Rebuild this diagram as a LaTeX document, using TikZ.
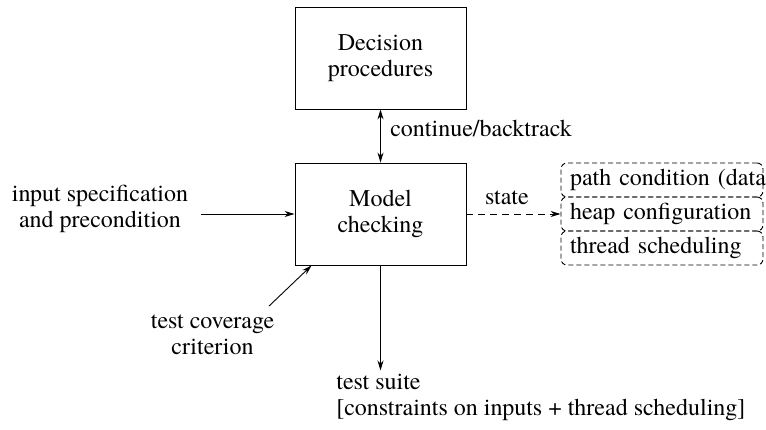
\documentclass[tikz,border=0pt]{standalone}
\usepackage{fontspec}
\setmainfont{texgyretermes}[Extension=.otf,UprightFont=*-regular,BoldFont=*-bold,
	ItalicFont=*-italic,BoldItalicFont=*-bolditalic]
\usetikzlibrary{arrows.meta,positioning}

\begin{document}
\begin{tikzpicture}[x=1pt,y=1pt,line width=0.9pt,>={Stealth[length=10pt,width=6pt]},
	node distance=100pt,on grid,font=\fontsize{24}{26}\selectfont,
	box/.style={draw,minimum width=171pt,minimum height=102pt,align=center},
	slot/.style={draw,dash pattern=on 5pt off 3pt,rounded corners=6pt,minimum height=34pt,
		text width=184pt,inner xsep=9pt,align=left},
	txt/.style={align=center}]
	\useasboundingbox (-380.5,214) rectangle (385.5,-215);
	\node[box] (mc) {Model\\checking};
	\node[box] (dp) [above=156pt of mc] {Decision\\procedures};
	\node[txt] (input) [above left=5pt and 280.5pt of mc] {input specification\\and precondition};
	\node[txt] (cov) [below left=121pt and 168pt of mc] {test coverage\\criterion};
	% state components, stacked to the right
	\node[slot] (heap) [right=281.5pt of mc] {heap configuration};
	\node[slot] (pc) [above=34pt of heap] {\mbox{path condition (data)}};
	\node[slot] (sched) [below=34pt of heap] {thread scheduling};
	\node[align=left,anchor=north west] (suite) at ([shift={(38pt,-105pt)}]mc.south west)
		{test suite\\{[}constraints on inputs + thread scheduling{]}};
	\path[<->] (dp) edge node[right=6pt,pos=0.35] {continue/backtrack} (mc);
	\path[->]
	(input.east |- mc.west) edge [shorten <=9pt] (mc.west)
	([shift={(-9pt,5pt)}]cov.north east) edge ([xshift=17pt]mc.south west)
	(mc) edge (mc |- suite.north)
	(mc) edge [dash pattern=on 7pt off 5pt] node[above=5pt,pos=0.43] {state} (heap);
\end{tikzpicture}
\end{document}
